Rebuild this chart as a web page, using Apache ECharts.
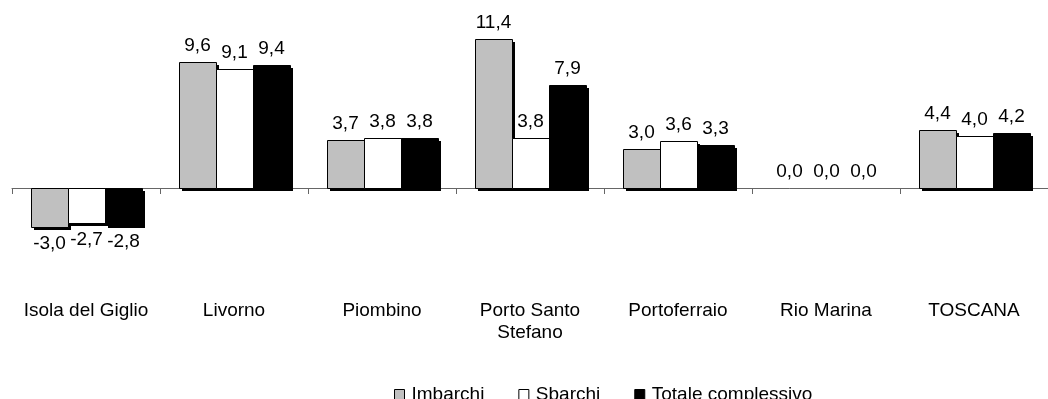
<!DOCTYPE html>
<html>
<head>
<meta charset="utf-8">
<script src="https://cdn.jsdelivr.net/npm/echarts@6/dist/echarts.min.js"></script>
<style>html,body{margin:0;padding:0;background:#fff;}#c{width:1048px;height:399px;}</style>
</head>
<body>
<div id="c"></div>
<script>
const categories = ['Isola del Giglio', 'Livorno', 'Piombino', 'Porto Santo\nStefano', 'Portoferraio', 'Rio Marina', 'TOSCANA'];
const imbarchi = [-3.0, 9.6, 3.7, 11.4, 3.0, 0.0, 4.4];
const sbarchi = [-2.7, 9.1, 3.8, 3.8, 3.6, 0.0, 4.0];
const totale = [-2.8, 9.4, 3.8, 7.9, 3.3, 0.0, 4.2];
const seriesNames = ['Imbarchi', 'Sbarchi', 'Totale complessivo'];
const seriesColors = ['#C0C0C0', '#FFFFFF', '#000000'];

const FONT = '"Liberation Sans", Arial, sans-serif';
const FS = 19;
const fmt = v => v.toFixed(1).replace('.', ',');

function makeRender(k) {
  return function (params, api) {
    const ci = api.value(0);
    const v = api.value(1);
    const band = api.size([1, 0])[0];
    const bw = band * 0.75 / 3;
    const p0 = api.coord([ci, 0]);
    const p1 = api.coord([ci, v]);
    const x = Math.round(p0[0] - 1.5 * bw + k * bw);
    const w = Math.round(bw);
    const top = Math.round(Math.min(p0[1], p1[1]));
    const bot = Math.round(Math.max(p0[1], p1[1]));
    const h = bot - top;
    const children = [];
    if (h > 0) {
      children.push({ type: 'rect', shape: { x: x + 3, y: top + 3, width: w, height: h }, style: { fill: '#000' } });
      children.push({ type: 'rect', shape: { x: x + 0.5, y: top + 0.5, width: w, height: h }, style: { fill: seriesColors[k], stroke: '#000', lineWidth: 1 } });
    }
    const neg = v < 0;
    children.push({
      type: 'text',
      x: x + w / 2,
      y: neg ? bot + 7 : top - 7,
      style: {
        text: fmt(v), fill: '#000', fontFamily: FONT, fontSize: FS,
        align: 'center', verticalAlign: neg ? 'top' : 'bottom'
      }
    });
    return { type: 'group', children: children };
  };
}

function mkSeries(k, values) {
  return {
    name: seriesNames[k],
    type: 'custom',
    renderItem: makeRender(k),
    data: values.map((v, i) => [i, v]),
    encode: { x: 0, y: 1 },
    clip: false,
    itemStyle: { color: seriesColors[k], borderColor: '#000', borderWidth: 1 },
    animation: false
  };
}

const chart = echarts.init(document.getElementById('c'), null, { renderer: 'canvas' });
chart.setOption({
  animation: false,
  grid: { left: 12, right: -14, top: 31, bottom: 211, containLabel: false },
  legend: {
    data: seriesNames,
    left: 389,
    top: 380,
    icon: 'rect',
    itemWidth: 10,
    itemHeight: 10,
    itemGap: 34,
    textStyle: { fontFamily: FONT, fontSize: FS, color: '#000', padding: [0, 0, 0, 2] },
    itemStyle: { borderWidth: 1, borderColor: '#000' }
  },
  xAxis: {
    type: 'category',
    data: categories,
    axisLine: { show: true, onZero: false, lineStyle: { color: '#666', width: 1 } },
    axisTick: { show: true, length: 6, lineStyle: { color: '#666' } },
    axisLabel: { margin: 112, fontFamily: FONT, fontSize: FS, color: '#000', lineHeight: 22, interval: 0 }
  },
  yAxis: {
    type: 'value',
    min: 0,
    max: 12,
    show: false,
    splitLine: { show: false }
  },
  series: [
    mkSeries(0, imbarchi),
    mkSeries(1, sbarchi),
    mkSeries(2, totale)
  ]
});
</script>
</body>
</html>
